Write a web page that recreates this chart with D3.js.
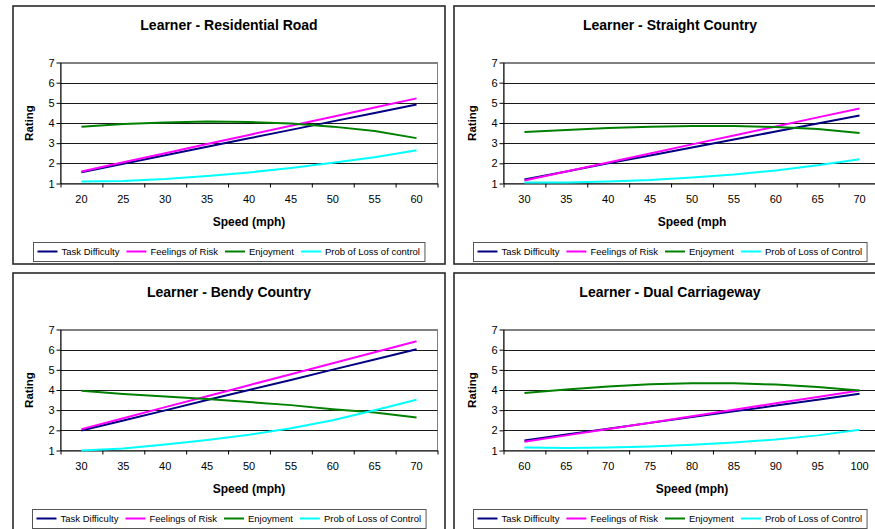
<!DOCTYPE html>
<html>
<head>
<script src="https://cdnjs.cloudflare.com/ajax/libs/d3/7.8.5/d3.min.js"></script>
<style>
  body { margin: 0; background: #fff; }
  text { font-family: "Liberation Sans", Arial, sans-serif; }
</style>
</head>
<body>
<div id="vis"></div>
<script>
// speeds (categories) per road type
const speedsResidential = [20, 25, 30, 35, 40, 45, 50, 55, 60];
const speedsStraight = [30, 35, 40, 45, 50, 55, 60, 65, 70];
const speedsBendy = [30, 35, 40, 45, 50, 55, 60, 65, 70];
const speedsDual = [60, 65, 70, 75, 80, 85, 90, 95, 100];

// ratings
const resTask = [1.56, 1.98, 2.40, 2.82, 3.24, 3.66, 4.08, 4.50, 4.92];
const resRisk = [1.60, 2.05, 2.50, 2.96, 3.41, 3.86, 4.31, 4.77, 5.22];
const resEnjoy = [3.82, 3.95, 4.03, 4.07, 4.05, 3.97, 3.82, 3.60, 3.25];
const resLoss = [1.10, 1.13, 1.22, 1.37, 1.55, 1.77, 2.03, 2.30, 2.65];

const strTask = [1.20, 1.60, 2.00, 2.39, 2.79, 3.18, 3.58, 3.98, 4.37];
const strRisk = [1.15, 1.60, 2.04, 2.49, 2.94, 3.38, 3.83, 4.28, 4.72];
const strEnjoy = [3.55, 3.65, 3.75, 3.82, 3.85, 3.85, 3.80, 3.70, 3.50];
const strLoss = [1.05, 1.05, 1.10, 1.17, 1.30, 1.45, 1.65, 1.90, 2.20];

const benTask = [1.99, 2.49, 2.99, 3.50, 4.00, 4.50, 5.01, 5.51, 6.02];
const benRisk = [2.06, 2.60, 3.15, 3.69, 4.24, 4.78, 5.33, 5.87, 6.42];
const benEnjoy = [3.96, 3.80, 3.68, 3.55, 3.40, 3.25, 3.05, 2.88, 2.64];
const benLoss = [1.00, 1.10, 1.30, 1.52, 1.78, 2.10, 2.50, 3.00, 3.52];

const dualTask = [1.50, 1.79, 2.08, 2.37, 2.66, 2.94, 3.23, 3.52, 3.81];
const dualRisk = [1.43, 1.75, 2.07, 2.38, 2.70, 3.02, 3.34, 3.65, 3.97];
const dualEnjoy = [3.85, 4.02, 4.17, 4.28, 4.33, 4.33, 4.27, 4.15, 3.97];
const dualLoss = [1.15, 1.12, 1.15, 1.20, 1.28, 1.40, 1.55, 1.75, 2.03];

const colors = ["#000080", "#ff00ff", "#008000", "#00ffff"];
const legendA = ["Task Difficulty", "Feelings of Risk", "Enjoyment", "Prob of Loss of control"];
const legendB = ["Task Difficulty", "Feelings of Risk", "Enjoyment", "Prob of Loss of Control"];
const yTicks = [1, 2, 3, 4, 5, 6, 7];

const panels = [
  { left: 13, top: 6, plotLeft: 60, title: "Learner - Residential Road", xTitle: "Speed (mph)",
    cats: speedsResidential, series: [resTask, resRisk, resEnjoy, resLoss], legend: legendA },
  { left: 454, top: 6, plotLeft: 503, title: "Learner - Straight Country", xTitle: "Speed (mph",
    cats: speedsStraight, series: [strTask, strRisk, strEnjoy, strLoss], legend: legendB },
  { left: 13, top: 273, plotLeft: 60, title: "Learner - Bendy Country", xTitle: "Speed (mph)",
    cats: speedsBendy, series: [benTask, benRisk, benEnjoy, benLoss], legend: legendB },
  { left: 454, top: 273, plotLeft: 503, title: "Learner - Dual Carriageway", xTitle: "Speed (mph)",
    cats: speedsDual, series: [dualTask, dualRisk, dualEnjoy, dualLoss], legend: legendB }
];

const width = 875, height = 529;
const panelW = 432, panelH = 258, plotW = 377, plotH = 121;

const svg = d3.select("#vis").append("svg")
  .attr("width", width)
  .attr("height", height);

panels.forEach(p => {
  const g = svg.append("g");
  const pt = p.top + 56.5;
  const pl = p.plotLeft + 0.5;
  const cx = p.left + panelW / 2;

  g.append("rect")
    .attr("x", p.left).attr("y", p.top)
    .attr("width", panelW).attr("height", panelH)
    .attr("fill", "#fff").attr("stroke", "#2a2a2a").attr("stroke-width", 1.6);

  g.append("text")
    .attr("x", cx).attr("y", p.top + 24)
    .attr("text-anchor", "middle")
    .attr("font-size", 14).attr("font-weight", "bold")
    .text(p.title);

  const x = d3.scaleBand().domain(p.cats).range([pl, pl + plotW]);
  const xEdge = d3.scaleLinear().domain([0, p.cats.length]).range([pl, pl + plotW]);
  const y = d3.scaleLinear().domain([1, 7]).range([pt + plotH, pt]);

  // plot area border
  g.append("rect")
    .attr("x", pl).attr("y", pt).attr("width", plotW).attr("height", plotH)
    .attr("fill", "none").attr("stroke", "#808080");

  // gridlines
  g.append("g").selectAll("line")
    .data(yTicks.slice(1))
    .join("line")
    .attr("x1", pl).attr("x2", pl + plotW)
    .attr("y1", d => Math.round(y(d)) + 0.5).attr("y2", d => Math.round(y(d)) + 0.5)
    .attr("stroke", d => d === 7 ? "#808080" : "#1a1a1a");

  // y axis
  const ya = g.append("g")
    .attr("transform", `translate(${pl},0)`)
    .call(d3.axisLeft(y).tickValues(yTicks).tickFormat(d3.format("d"))
      .tickSize(4).tickPadding(2).tickSizeOuter(0));
  ya.selectAll("text").attr("font-size", 11).attr("font-family", "Liberation Sans, Arial");
  ya.select(".domain").attr("stroke", "#000");

  // x axis: ticks on category edges, labels centred in bands
  const xa = g.append("g")
    .attr("transform", `translate(0,${pt + plotH})`)
    .call(d3.axisBottom(xEdge).tickValues(d3.range(p.cats.length + 1)).tickFormat("").tickSize(4).tickSizeOuter(0));
  xa.select(".domain").attr("stroke", "#000");
  const xl = g.append("g")
    .attr("transform", `translate(0,${pt + plotH})`)
    .call(d3.axisBottom(x).tickSize(0).tickPadding(12));
  xl.select(".domain").remove();
  xl.selectAll("text").attr("font-size", 11).attr("font-family", "Liberation Sans, Arial");

  // axis titles
  g.append("text")
    .attr("transform", `translate(${p.plotLeft - 27},${pt + plotH / 2}) rotate(-90)`)
    .attr("text-anchor", "middle")
    .attr("font-size", 11.5).attr("font-weight", "bold")
    .text("Rating");
  g.append("text")
    .attr("x", pl + plotW / 2).attr("y", pt + plotH + 42)
    .attr("text-anchor", "middle")
    .attr("font-size", 12).attr("font-weight", "bold")
    .text(p.xTitle);

  // series lines
  const line = d3.line()
    .x((d, i) => x(p.cats[i]) + x.bandwidth() / 2)
    .y(d => y(d));
  g.append("g").selectAll("path")
    .data(p.series)
    .join("path")
    .attr("fill", "none")
    .attr("stroke", (d, i) => colors[i])
    .attr("stroke-width", 2)
    .attr("d", d => line(d));

  // legend
  const lg = g.append("g");
  const ly = p.top + 245.5;
  let lx = 0;
  p.legend.forEach((name, i) => {
    lg.append("line")
      .attr("x1", lx).attr("x2", lx + 20)
      .attr("y1", ly).attr("y2", ly)
      .attr("stroke", colors[i]).attr("stroke-width", 2);
    const t = lg.append("text")
      .attr("x", lx + 24).attr("y", ly + 3.5)
      .attr("font-size", 9.5)
      .text(name);
    lx += 24 + t.node().getComputedTextLength() + 7;
  });
  const boxW = lx - 7 + 9;
  const bx = Math.round(cx - boxW / 2) + 0.5;
  lg.attr("transform", `translate(${bx + 4},0)`);
  g.insert("rect", () => lg.node())
    .attr("x", bx).attr("y", p.top + 236.5)
    .attr("width", boxW).attr("height", 19)
    .attr("fill", "#fff").attr("stroke", "#555");
});
</script>
</body>
</html>
